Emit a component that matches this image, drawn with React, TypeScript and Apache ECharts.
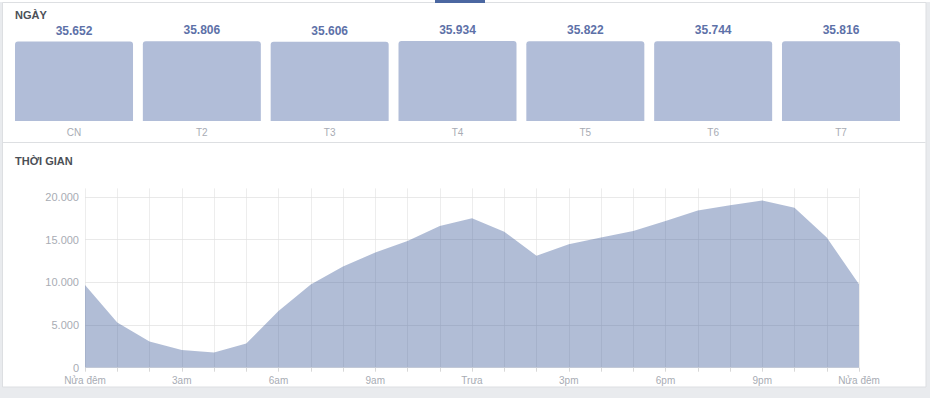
import React, { useEffect, useRef } from "react";
import * as echarts from "echarts";

const dayCategories = ["CN", "T2", "T3", "T4", "T5", "T6", "T7"];
const dayValues = [35652, 35806, 35606, 35934, 35822, 35744, 35816];

const hourCategories = [
  "0", "1", "2", "3", "4", "5", "6", "7", "8", "9", "10", "11", "12",
  "13", "14", "15", "16", "17", "18", "19", "20", "21", "22", "23", "24",
];
const hourValues = [
  9700, 5300, 3070, 2060, 1790, 2840, 6630, 9730, 11850, 13490, 14850, 16600,
  17490, 15930, 13110, 14470, 15240, 16010, 17180, 18420, 19040, 19590, 18720,
  15240, 9780,
];
const hourTickLabels = ["Nửa đêm", "3am", "6am", "9am", "Trưa", "3pm", "6pm", "9pm", "Nửa đêm"];

const fmt = (v: number) => String(v).replace(/\B(?=(\d{3})+(?!\d))/g, ".");

const FONT = "'Liberation Sans', Arial, Helvetica, sans-serif";

export default function App() {
  const ref = useRef<HTMLDivElement>(null);
  useEffect(() => {
    if (!ref.current) return;
    const chart = echarts.init(ref.current, null, { renderer: "svg" });
    chart.setOption({
      animation: false,
      textStyle: { fontFamily: FONT },
      graphic: [
        { type: "rect", z: -10, shape: { x: 0, y: 0, width: 930, height: 398 }, style: { fill: "#e9ebee" } },
        { type: "rect", z: -9, shape: { x: 0, y: 0, width: 930, height: 2 }, style: { fill: "#ffffff" } },
        {
          type: "rect", z: -8,
          shape: { x: 2.5, y: 2.5, width: 923.5, height: 384.5 },
          style: { fill: "#ffffff", stroke: "#dddfe2", lineWidth: 1 },
        },
        { type: "line", z: -7, shape: { x1: 3, y1: 142.5, x2: 925.5, y2: 142.5 }, style: { stroke: "#dddfe2", lineWidth: 1 } },
        { type: "rect", z: 10, shape: { x: 435, y: 0, width: 50, height: 3 }, style: { fill: "#4b67a1" } },
        {
          type: "text", x: 15, y: 14.5,
          style: { text: "NGÀY", font: `bold 11px ${FONT}`, fill: "#4b4f56", verticalAlign: "middle" },
        },
        {
          type: "text", x: 15, y: 160.5,
          style: { text: "THỜI GIAN", font: `bold 11px ${FONT}`, fill: "#4b4f56", verticalAlign: "middle" },
        },
      ],
      grid: [
        { left: 10.1, right: 930 - 904.9, top: 40.8, bottom: 277, containLabel: false },
        { left: 85, right: 71, top: 188.4, bottom: 30.3, containLabel: false },
      ],
      xAxis: [
        {
          type: "category",
          gridIndex: 0,
          data: dayCategories,
          axisLine: { show: false },
          axisTick: { show: false },
          axisLabel: { color: "#a8acb4", fontSize: 10, margin: 6, fontFamily: FONT },
        },
        {
          type: "category",
          gridIndex: 1,
          data: hourCategories,
          boundaryGap: false,
          z: 3,
          axisLine: { show: false },
          axisTick: { show: true, interval: 0, length: 4, lineStyle: { color: "#d8d8d8" } },
          axisLabel: {
            interval: 0,
            color: "#a8acb4",
            fontSize: 10,
            margin: 8,
            fontFamily: FONT,
            formatter: (_v: string, i: number) => (i % 3 === 0 ? hourTickLabels[i / 3] : ""),
          },
          splitLine: { show: true, interval: 0, lineStyle: { color: "rgba(225,225,225,0.6)", width: 1 } },
        },
      ],
      yAxis: [
        { type: "value", gridIndex: 0, min: 0, max: 36000, show: false, splitLine: { show: false } },
        {
          type: "value",
          gridIndex: 1,
          min: 0,
          max: 21000,
          interval: 5000,
          axisLine: { show: false },
          axisTick: { show: false },
          axisLabel: {
            color: "#a8acb4",
            fontSize: 11,
            margin: 6,
            fontFamily: FONT,
            showMaxLabel: false,
            formatter: (v: number) => (v % 5000 === 0 ? fmt(v) : ""),
          },
          splitLine: { show: true, showMaxLine: false, lineStyle: { color: "#e9e9e9", width: 1 } },
        },
      ],
      series: [
        {
          type: "bar",
          xAxisIndex: 0,
          yAxisIndex: 0,
          data: dayValues,
          barWidth: 118,
          itemStyle: { color: "#b1bdd8", borderRadius: [3, 3, 0, 0] },
          label: {
            show: true,
            position: "top",
            distance: 5,
            color: "#5d71a8",
            fontSize: 12,
            fontWeight: "bold",
            fontFamily: FONT,
            formatter: (p: any) => fmt(p.value),
          },
        },
        {
          type: "line",
          xAxisIndex: 1,
          yAxisIndex: 1,
          data: hourValues,
          symbol: "none",
          lineStyle: { width: 0, opacity: 0 },
          areaStyle: { color: "rgba(59,89,152,0.4)", opacity: 1 },
        },
      ],
    });
    return () => chart.dispose();
  }, []);
  return (
    <div
      ref={ref}
      style={{ position: "absolute", left: 0, top: 0, width: 930, height: 398 }}
    />
  );
}
